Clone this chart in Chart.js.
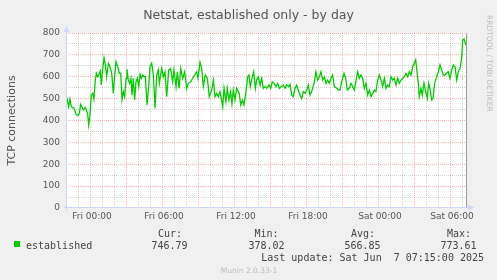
<!DOCTYPE html>
<html><head><meta charset="utf-8">
<script src="https://cdn.jsdelivr.net/npm/chart.js@4/dist/chart.umd.min.js"></script>
<style>html,body{margin:0;padding:0;background:#F0F0F0;overflow:hidden}</style>
</head><body>
<canvas id="c" width="497" height="280"></canvas>
<script>
// ---- data (hours relative to Fri 00:00) ----
const hours = [-2.00,-1.89,-1.78,-1.67,-1.56,-1.44,-1.33,-1.17,-1.00,-0.89,-0.78,-0.67,-0.56,-0.39,-0.28,-0.19,-0.11,
0.00,0.11,0.22,0.33,0.44,0.53,0.64,0.75,0.86,0.94,1.06,1.17,1.28,1.39,1.53,1.67,1.81,1.94,2.06,2.17,2.31,2.44,2.56,2.67,2.78,2.89,
3.00,3.08,3.19,3.31,3.42,3.50,3.61,3.72,3.83,3.94,4.06,4.17,4.28,4.39,4.50,4.61,4.75,4.89,5.00,5.14,5.28,5.42,5.56,5.69,5.78,5.97,
6.11,6.25,6.39,6.56,6.72,6.89,7.00,7.17,7.28,7.42,7.56,7.72,7.89,8.06,8.19,8.39,8.56,8.72,8.89,9.00,9.17,9.31,9.44,9.61,9.78,9.94,
10.14,10.28,10.42,10.56,10.69,10.83,11.06,11.17,11.33,11.44,11.58,11.72,11.83,11.94,12.08,12.22,12.44,12.56,12.69,12.83,13.00,13.14,
13.25,13.36,13.50,13.64,13.78,13.89,14.03,14.17,14.31,14.44,14.58,14.72,14.92,15.06,15.19,15.33,15.50,15.64,15.78,15.97,16.11,16.25,
16.39,16.56,16.67,16.81,16.94,17.08,17.22,17.36,17.50,17.64,17.78,17.92,18.06,18.19,18.33,18.47,18.67,18.83,18.97,19.11,19.25,19.39,
19.53,19.67,19.81,19.94,20.08,20.22,20.36,20.56,20.69,20.83,20.97,21.17,21.31,21.44,21.61,21.75,21.89,22.03,22.17,22.31,22.44,22.58,
22.72,22.86,23.00,23.14,23.28,23.42,23.56,23.69,23.83,23.97,24.11,24.25,24.39,24.53,24.67,24.81,24.94,25.08,25.22,25.36,25.50,25.64,
25.78,25.92,26.06,26.19,26.33,26.47,26.61,26.75,26.89,27.03,27.14,27.22,27.36,27.44,27.58,27.69,27.83,27.97,28.11,28.22,28.36,28.47,
28.58,28.72,28.89,29.03,29.17,29.31,29.44,29.58,29.72,29.86,30.00,30.14,30.28,30.42,30.56,30.69,30.83,30.97,31.06,31.17,31.28,31.33];
const connections = [471,494,463,498,463,459,456,428,422,433,474,463,448,459,443,428,379,
425,516,524,498,583,616,600,611,626,562,638,687,654,600,661,646,616,524,608,669,646,616,616,494,532,509,
593,635,585,570,593,516,593,494,577,593,555,611,593,608,600,600,471,555,646,661,608,456,608,631,570,638,
600,623,509,631,638,577,631,555,623,547,638,593,623,547,570,577,593,608,623,593,666,638,555,608,593,509,
539,585,509,524,509,532,463,547,486,547,494,532,478,539,494,547,524,471,494,471,532,600,
608,555,593,623,547,585,600,562,593,547,555,547,562,547,577,570,555,570,547,555,562,547,
562,555,565,516,509,547,562,539,516,501,532,524,539,562,516,532,570,623,585,600,623,585,
600,570,585,570,593,608,555,547,539,539,577,616,593,539,547,570,555,539,585,623,593,608,
593,547,570,516,539,509,524,539,532,585,608,585,555,593,547,562,555,600,585,593,562,593,
570,585,593,600,616,600,623,608,646,661,677,638,570,509,547,516,570,532,501,570,539,494,
501,570,600,623,654,631,608,608,616,623,593,631,654,646,585,623,638,684,768,773,753,747];

const xTickHours = [0, 6, 12, 18, 24, 30];
const xTickLabels = ['Fri 00:00', 'Fri 06:00', 'Fri 12:00', 'Fri 18:00', 'Sat 00:00', 'Sat 06:00'];
const yTickValues = [0, 100, 200, 300, 400, 500, 600, 700, 800];

const seriesName = 'established';
const statHeaders = ['Cur:', 'Min:', 'Avg:', 'Max:'];
const statValues = ['746.79', '378.02', '566.85', '773.61'];
const chartTitle = 'Netstat, established only - by day';
const yAxisTitle = 'TCP connections';
const lastUpdate = 'Last update: Sat Jun  7 07:15:00 2025';
const footer = 'Munin 2.0.33-1';
const watermark = 'RRDTOOL / TOBI OETIKER';

const GREEN = '#00CC00';
const RED = 'rgba(255,95,95,0.5)';
const GREY = 'rgba(128,128,128,0.35)';
const AXIS = '#CFD6F8';
const FONT = '#555555';

const muninPlugin = {
  id: 'munin',
  beforeDraw(chart) {
    const {ctx, chartArea: a} = chart;
    ctx.save();
    ctx.fillStyle = '#F0F0F0';
    ctx.fillRect(0, 0, chart.width, chart.height);
    ctx.fillStyle = '#FFFFFF';
    ctx.fillRect(a.left, a.top, a.right - a.left, a.bottom - a.top);
    ctx.restore();
  },
  afterDraw(chart) {
    const {ctx, chartArea: a} = chart;
    const xs = chart.scales.x;
    ctx.save();
    // right "now" edge
    const xr = Math.round(xs.getPixelForValue(xs.max)) + 0.5;
    ctx.strokeStyle = '#999999';
    ctx.lineWidth = 1;
    ctx.beginPath(); ctx.moveTo(xr, a.top); ctx.lineTo(xr, a.bottom); ctx.stroke();
    // axes
    const x0 = Math.round(a.left) + 0.5, y0 = Math.round(a.bottom) - 0.5;
    ctx.strokeStyle = AXIS; ctx.fillStyle = AXIS;
    ctx.beginPath(); ctx.moveTo(x0 - 3, y0); ctx.lineTo(a.right + 3, y0); ctx.stroke();
    ctx.beginPath(); ctx.moveTo(x0, y0 + 3); ctx.lineTo(x0, a.top - 3); ctx.stroke();
    ctx.beginPath(); ctx.moveTo(a.right + 8, y0); ctx.lineTo(a.right + 2, y0 - 3); ctx.lineTo(a.right + 2, y0 + 3); ctx.closePath(); ctx.fill();
    ctx.beginPath(); ctx.moveTo(x0, a.top - 7); ctx.lineTo(x0 - 3, a.top - 1); ctx.lineTo(x0 + 3, a.top - 1); ctx.closePath(); ctx.fill();

    // title
    ctx.fillStyle = FONT;
    ctx.font = '12.5px "DejaVu Sans"';
    ctx.textAlign = 'center'; ctx.textBaseline = 'alphabetic';
    ctx.fillText(chartTitle, chart.width / 2, 18.5);
    // y axis title
    ctx.save();
    ctx.translate(15, (a.top + a.bottom) / 2);
    ctx.rotate(-Math.PI / 2);
    ctx.font = '11px "DejaVu Sans"';
    ctx.fillText(yAxisTitle, 0, 0);
    ctx.restore();
    // watermark
    ctx.save();
    ctx.translate(486.5, 15);
    ctx.rotate(Math.PI / 2);
    ctx.fillStyle = '#BBBBBB';
    ctx.font = '7.5px "DejaVu Sans"';
    ctx.textAlign = 'left';
    ctx.fillText(watermark, 0, 0);
    ctx.restore();

    // legend
    ctx.font = '10px "DejaVu Sans Mono"';
    ctx.textAlign = 'left';
    ctx.fillStyle = GREEN;
    ctx.fillRect(14, 241, 6, 6);
    ctx.fillStyle = '#444444';
    ctx.fillText(seriesName, 26, 249);
    const hx = [158, 254.5, 351, 447];
    const vx = [151.5, 248.5, 344.5, 440.5];
    statHeaders.forEach((h, i) => ctx.fillText(h, hx[i], 237));
    statValues.forEach((v, i) => ctx.fillText(v, vx[i], 249));
    ctx.textAlign = 'right';
    ctx.fillText(lastUpdate, 484, 261);
    ctx.textAlign = 'center';
    ctx.fillStyle = '#BBBBBB';
    ctx.font = '7.5px "DejaVu Sans"';
    ctx.fillText(footer, 249, 272.5);
    ctx.restore();
  }
};

new Chart(document.getElementById('c'), {
  type: 'line',
  data: {
    datasets: [{
      label: seriesName,
      data: hours.map((h, i) => ({x: h, y: connections[i]})),
      borderColor: GREEN,
      borderWidth: 1.3,
      pointRadius: 0,
      tension: 0,
      fill: false
    }]
  },
  options: {
    responsive: false,
    devicePixelRatio: 1,
    animation: false,
    events: [],
    layout: {padding: {top: 33, right: 31, left: 0, bottom: 0}},
    plugins: {legend: {display: false}, tooltip: {enabled: false}, title: {display: false}},
    scales: {
      x: {
        type: 'linear',
        min: -2, max: 31.3333,
        afterFit: (s) => { s.height = 72; },
        afterBuildTicks: (s) => {
          const t = [];
          for (let h = -2; h <= 31; h++) t.push({value: h});
          s.ticks = t;
        },
        ticks: {
          autoSkip: false, maxRotation: 0, padding: 3, labelOffset: 2,
          color: FONT, font: {family: 'DejaVu Sans', size: 9},
          callback: (v) => { const i = xTickHours.indexOf(v); return i >= 0 ? xTickLabels[i] : ''; }
        },
        grid: {
          drawTicks: false,
          lineWidth: 1,
          color: (c) => {
            const v = c.tick ? c.tick.value : null;
            if (v === null || v === -2) return 'rgba(0,0,0,0)';
            return (v % 3 === 0) ? RED : GREY;
          }
        },
        border: {display: false, dash: [1, 1]}
      },
      y: {
        min: 0, max: 800,
        afterFit: (s) => { s.width = 66; },
        afterBuildTicks: (s) => {
          const t = [];
          for (let v = 0; v <= 800; v += 50) t.push({value: v});
          s.ticks = t;
        },
        ticks: {
          autoSkip: false, padding: 6,
          color: FONT, font: {family: 'DejaVu Sans', size: 9},
          callback: (v) => yTickValues.includes(v) ? String(v) : ''
        },
        grid: {
          drawTicks: false,
          lineWidth: 1,
          color: (c) => {
            const v = c.tick ? c.tick.value : null;
            if (v === null || v === 0) return 'rgba(0,0,0,0)';
            return (v % 100 === 0) ? RED : GREY;
          }
        },
        border: {display: false, dash: [1, 1]}
      }
    }
  },
  plugins: [muninPlugin]
});
</script>
</body></html>
